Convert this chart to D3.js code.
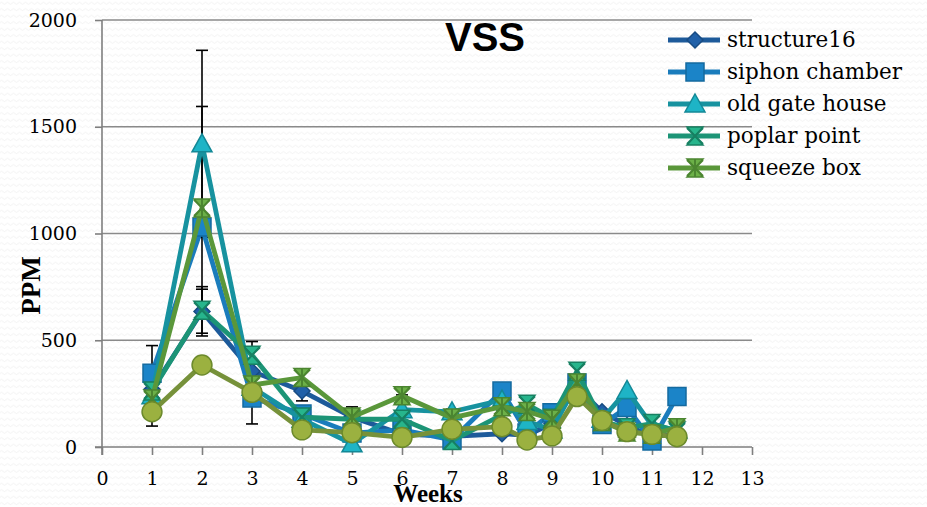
<!DOCTYPE html>
<html>
<head>
<meta charset="utf-8">
<script src="https://cdn.jsdelivr.net/npm/d3@7"></script>
<style>
  html, body { margin: 0; padding: 0; background: #fff; }
  svg { display: block; }
</style>
</head>
<body>
<svg id="chart" width="927" height="507"></svg>
<script>
// Sampling weeks (half-week samples after week 8)
const weeks = [1, 2, 3, 4, 5, 6, 7, 8, 8.5, 9, 9.5, 10, 10.5, 11, 11.5];

// VSS concentration (ppm) per site
const structure16    = [270, 635, 355, 262, 140, 60, 50, 62, 55, 110, 280, 165, 100, 50, 60];
const siphonChamber  = [345, 1030, 230, 155, 65, 80, 33, 262, 66, 160, 300, 105, 185, 28, 236];
const oldGateHouse   = [240, 1420, 280, 130, 15, 175, 165, 220, 120, 80, 300, 130, 265, 100, 80];
const poplarPoint    = [262, 640, 430, 140, 130, 130, 30, 150, 200, 135, 355, 120, 90, 110, 75];
const squeezeBox     = [225, 1120, 290, 325, 140, 240, 136, 189, 166, 130, 300, 120, 70, 60, 90];
const extraSite      = [165, 384, 256, 80, 67, 45, 83, 95, 33, 52, 236, 124, 72, 59, 48];

// Error bars: week, lower, upper (ppm)
const errWeeks = [1, 2, 2, 2, 2, 3, 4, 4, 5, 6, 7];
const errLow   = [98, 982, 645, 520, 533, 108, 216, 290, 100, 200, 120];
const errHigh  = [475, 1858, 1595, 751, 739, 494, 364, 358, 188, 244, 177];

const xTicks = d3.range(0, 14);
const yTicks = [0, 500, 1000, 1500, 2000];

const seriesNames = ["structure16", "siphon chamber", "old gate house", "poplar point", "squeeze box"];

const series = [
  { name: seriesNames[0], values: structure16,   line: "#1d5a9a", fill: "#2060a8", stroke: "#174b82", marker: "diamond" },
  { name: seriesNames[1], values: siphonChamber, line: "#1a7cbc", fill: "#1b84c8", stroke: "#146a9f", marker: "square" },
  { name: seriesNames[2], values: oldGateHouse,  line: "#17929f", fill: "#1eb4c6", stroke: "#138896", marker: "triangle" },
  { name: seriesNames[3], values: poplarPoint,   line: "#1c9476", fill: "#27b58c", stroke: "#178062", marker: "x" },
  { name: seriesNames[4], values: squeezeBox,    line: "#5a973a", fill: "#6cb048", stroke: "#4b8530", marker: "star" },
  { name: null,           values: extraSite,     line: "#76913a", fill: "#9bb140", stroke: "#6c8a2c", marker: "circle" }
];

const svg = d3.select("#chart");

// Paper-like background texture
const defs = svg.append("defs");
const pat = defs.append("pattern")
  .attr("id", "paper").attr("patternUnits", "userSpaceOnUse")
  .attr("width", 12).attr("height", 6.5);
pat.append("path")
  .attr("d", "M0 3.2 q1.5 -2 3 0 t3 0 t3 0 t3 0")
  .attr("fill", "none").attr("stroke", "#eeeeee").attr("stroke-width", 0.8);
svg.append("rect").attr("width", 927).attr("height", 507).attr("fill", "#fff");
svg.append("rect").attr("width", 927).attr("height", 507).attr("fill", "url(#paper)");

const x = d3.scaleLinear().domain([0, 13]).range([102, 752]);
const y = d3.scaleLinear().domain([0, 2000]).range([447, 20]);

const serif = "'DejaVu Serif', 'Liberation Serif', serif";
const boldSerif = "'Liberation Serif', 'DejaVu Serif', serif";
const axisColor = "#7f7f7f";

// Horizontal gridlines
svg.append("g").selectAll("line")
  .data(yTicks.filter(d => d > 0))
  .join("line")
  .attr("x1", x(0)).attr("x2", x(13))
  .attr("y1", d => y(d)).attr("y2", d => y(d))
  .attr("stroke", "#8a8a8a").attr("stroke-width", 1.6);

// Y axis
const yAxis = svg.append("g")
  .attr("transform", `translate(${x(0)},0)`)
  .call(d3.axisLeft(y).tickValues(yTicks).tickSize(7).tickSizeOuter(0).tickPadding(18).tickFormat(d3.format("d")));
yAxis.attr("font-family", serif).attr("font-size", 19);
yAxis.select(".domain").attr("stroke", axisColor).attr("stroke-width", 1.6)
  .attr("d", `M0,${y(2000)}V${y(0) + 8}`);
yAxis.selectAll(".tick line").attr("stroke", axisColor).attr("stroke-width", 1.6);
yAxis.selectAll(".tick text").attr("fill", "#000");

// X axis
const xAxis = svg.append("g")
  .attr("transform", `translate(0,${y(0)})`)
  .call(d3.axisBottom(x).tickValues(xTicks).tickSize(8).tickSizeOuter(0).tickPadding(17).tickFormat(d3.format("d")));
xAxis.attr("font-family", serif).attr("font-size", 19);
xAxis.select(".domain").attr("stroke", axisColor).attr("stroke-width", 1.6)
  .attr("d", `M${x(0) - 7},0H${x(13)}`);
xAxis.selectAll(".tick line").attr("stroke", axisColor).attr("stroke-width", 1.6);
xAxis.selectAll(".tick text").attr("fill", "#000");

// Axis titles and chart title
svg.append("text")
  .attr("transform", `translate(40,${(y(0) + y(2000)) / 2 + 52}) rotate(-90)`)
  .attr("text-anchor", "middle")
  .attr("font-family", boldSerif).attr("font-weight", "bold").attr("font-size", 27)
  .text("PPM");

svg.append("text")
  .attr("x", 428).attr("y", 502)
  .attr("text-anchor", "middle")
  .attr("font-family", boldSerif).attr("font-weight", "bold").attr("font-size", 25)
  .text("Weeks");

svg.append("text")
  .attr("x", 485).attr("y", 51)
  .attr("text-anchor", "middle")
  .attr("font-family", "'Liberation Sans', Arial, sans-serif").attr("font-weight", "bold").attr("font-size", 40)
  .text("VSS");

// Marker shapes
function markerPath(type) {
  switch (type) {
    case "diamond":  return "M0,-8L8,0L0,8L-8,0Z";
    case "square":   return "M-9,-9H9V9H-9Z";
    case "triangle": return "M0,-10L10,8H-10Z";
    case "circle":   return d3.symbol(d3.symbolCircle, 310)();
    case "x":        return "M-8,-9H8L0,0L8,9H-8L0,0Z";
    case "star":     return "M-8,-9H8L0,0L8,9H-8L0,0Z";
  }
}
function drawMarker(g, s) {
  g.append("path").attr("d", markerPath(s.marker))
    .attr("fill", s.fill).attr("stroke", s.stroke).attr("stroke-width", 1.5);
  if (s.marker === "x" || s.marker === "star") {
    g.append("path").attr("d", "M-8,-8L8,8M8,-8L-8,8")
      .attr("stroke", s.stroke).attr("stroke-width", 2).attr("fill", "none");
  }
  if (s.marker === "star") {
    g.append("path").attr("d", "M0,-9V9")
      .attr("stroke", s.stroke).attr("stroke-width", 2).attr("fill", "none");
  }
}

// Error bars
const ebG = svg.append("g").attr("stroke", "#000").attr("stroke-width", 1.6);
errWeeks.forEach((w, i) => {
  ebG.append("line").attr("x1", x(w)).attr("x2", x(w)).attr("y1", y(errLow[i])).attr("y2", y(errHigh[i]));
  [errLow[i], errHigh[i]].forEach(v => {
    ebG.append("line").attr("x1", x(w) - 6).attr("x2", x(w) + 6).attr("y1", y(v)).attr("y2", y(v));
  });
});

// Series lines and markers
const line = d3.line().x((d, i) => x(weeks[i])).y(d => y(d));
series.forEach(s => {
  const g = svg.append("g");
  g.append("path").datum(s.values)
    .attr("d", line).attr("fill", "none")
    .attr("stroke", s.line).attr("stroke-width", 4.8).attr("stroke-linejoin", "round");
  s.values.forEach((v, i) => {
    drawMarker(g.append("g").attr("transform", `translate(${x(weeks[i])},${y(v)})`), s);
  });
});

// Legend
const legend = svg.append("g");
series.filter(s => s.name).forEach((s, i) => {
  const ly = 40 + i * 32;
  const row = legend.append("g").attr("transform", `translate(0,${ly})`);
  row.append("line").attr("x1", 668).attr("x2", 720).attr("y1", 0).attr("y2", 0)
    .attr("stroke", s.line).attr("stroke-width", 4.8);
  drawMarker(row.append("g").attr("transform", "translate(695,0)"), s);
  row.append("text").attr("x", 727).attr("y", 0).attr("dy", "0.32em")
    .attr("font-family", serif).attr("font-size", 21.5).attr("fill", "#000")
    .text(s.name);
});
</script>
</body>
</html>
